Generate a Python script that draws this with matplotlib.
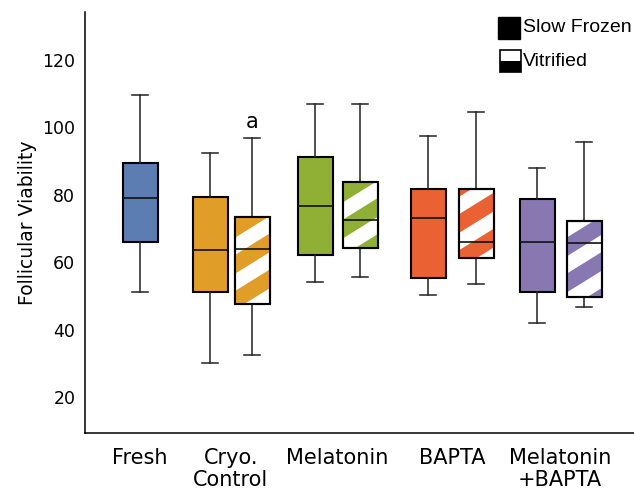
import numpy as np
import matplotlib
matplotlib.use("Agg")
import matplotlib.pyplot as plt
from matplotlib.patches import Rectangle, Polygon, PathPatch

# group labels and colours
groups = ["Fresh", "Cryo.\nControl", "Melatonin", "BAPTA", "Melatonin\n+BAPTA"]
colors = ["#5B7DB2", "#E09D28", "#8FB034", "#EA6134", "#8878B2"]

# box statistics (whislo, q1, med, q3, whishi)
box_names = ["Fresh", "Cryo SF", "Cryo V", "Mel SF", "Mel V",
             "BAPTA SF", "BAPTA V", "MB SF", "MB V"]
whislo = [51.2, 30.1, 32.5, 54.1, 55.6, 50.3, 53.5, 42.0, 46.7]
q1     = [66.0, 51.2, 47.6, 62.1, 64.2, 55.3, 61.2, 51.2, 49.7]
med    = [79.1, 63.6, 63.9, 76.7, 72.5, 73.1, 66.0, 66.0, 65.7]
q3     = [89.4, 79.3, 73.4, 91.2, 83.8, 81.7, 81.7, 78.8, 72.2]
whishi = [109.6, 92.4, 96.9, 106.9, 106.9, 97.4, 104.6, 88.0, 95.7]
vitrified = [False, False, True, False, True, False, True, False, True]
box_group = [0, 1, 1, 2, 2, 3, 3, 4, 4]

# layout (x in axis pixels)
positions = [55, 125, 167, 230, 275, 343, 391, 452, 499]
group_centers = [55, 146, 252, 367, 475]
box_w = 35

fig = plt.figure(figsize=(6.34, 4.91), dpi=100)
ax = fig.add_axes([85 / 634, 1 - 433 / 491, 1 - 85 / 634, (433 - 12) / 491])

stats = []
for i in range(len(box_names)):
    stats.append(dict(label=box_names[i], whislo=whislo[i], q1=q1[i], med=med[i],
                      q3=q3[i], whishi=whishi[i], fliers=[]))

res = ax.bxp(stats, positions=positions, widths=box_w, capwidths=16,
             patch_artist=True, showfliers=False,
             boxprops=dict(linewidth=1.5, edgecolor="black"),
             whiskerprops=dict(linewidth=1.1, color="#222222"),
             capprops=dict(linewidth=1.1, color="#222222"),
             medianprops=dict(linewidth=1.2, color="#111111"))

slope = 0.184   # y units per x unit
period = 10.7   # y units

for i, box in enumerate(res["boxes"]):
    col = colors[box_group[i]]
    if not vitrified[i]:
        box.set_facecolor(col)
        continue
    box.set_facecolor("white")
    x0 = positions[i] - box_w / 2
    x1 = positions[i] + box_w / 2
    c = q1[i] - slope * box_w - period + (i * 2.3) % period
    while c < q3[i] + period:
        stripe = Polygon([(x0, c), (x1, c + slope * box_w),
                          (x1, c + slope * box_w + period * 0.52), (x0, c + period * 0.52)],
                         closed=True, facecolor=col, edgecolor="none", zorder=2.03)
        ax.add_patch(stripe)
        stripe.set_clip_path(box)
        c += period
    edge = PathPatch(box.get_path(), facecolor="none", edgecolor="black",
                     linewidth=1.5, zorder=2.2, transform=box.get_transform())
    ax.add_patch(edge)

ax.text(positions[2], 101.6, "a", ha="center", va="center", fontsize=15)

ax.set_xlim(0, 549)
ax.set_ylim(9.3, 134.2)
ax.set_yticks([20, 40, 60, 80, 100, 120])
ax.set_xticks(group_centers)
ax.set_xticklabels(groups, fontsize=15, linespacing=1.1)
ax.tick_params(axis="y", length=0, pad=7, labelsize=12.5)
ax.tick_params(axis="x", length=0, pad=11)
ax.set_ylabel("Follicular Viability", fontsize=13.5, labelpad=4)
for s in ["top", "right"]:
    ax.spines[s].set_visible(False)
for s in ["left", "bottom"]:
    ax.spines[s].set_linewidth(1.1)

# legend drawn by hand
leg_font = dict(family="Liberation Sans", fontsize=14, va="center", ha="left")
fig.patches.append(Rectangle((498 / 634, 1 - 39 / 491), 22 / 634, 22 / 491,
                             transform=fig.transFigure, facecolor="black",
                             edgecolor="black", linewidth=1))
fig.patches.append(Rectangle((500 / 634, 1 - 72 / 491), 21 / 634, 11 / 491,
                             transform=fig.transFigure, facecolor="black",
                             edgecolor="none"))
fig.patches.append(Rectangle((500 / 634, 1 - 72 / 491), 21 / 634, 22 / 491,
                             transform=fig.transFigure, facecolor="none",
                             edgecolor="black", linewidth=1.2))
fig.text(523 / 634, 1 - 28 / 491, "Slow Frozen", **leg_font)
fig.text(523 / 634, 1 - 61 / 491, "Vitrified", **leg_font)

fig.savefig("out.png", dpi=100)
